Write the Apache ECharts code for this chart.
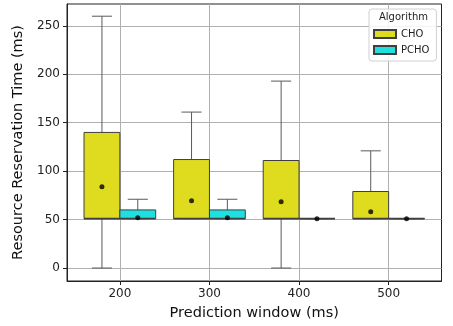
<!DOCTYPE html>
<html><head><meta charset="utf-8">
<script src="https://cdn.jsdelivr.net/npm/echarts@6/dist/echarts.min.js"></script>
<style>html,body{margin:0;padding:0;background:#fff}#c{width:453px;height:326px}</style>
</head><body><div id="c"></div>
<script>
// Data
const categories = ['200', '300', '400', '500'];
const seriesNames = ['CHO', 'PCHO'];
// [min, q1, median, q3, max] per category
const choBox = [
  [0, 51, 51, 140, 260],
  [51, 51, 51, 112, 161],
  [0, 51, 51, 111, 193],
  [51, 51, 51, 79, 121]
];
const pchoBox = [
  [51, 51, 51, 60, 71],
  [51, 51, 51, 60, 71],
  [51, 51, 51, 51, 51],
  [51, 51, 51, 51, 51]
];
const choMean = [84, 69.5, 68.5, 58];
const pchoMean = [52, 52, 51, 51];
const yTicks = [0, 50, 100, 150, 200, 250];

const colors = ['#dfdc1f', '#20dfdf'];
const offsets = [-0.2, 0.2];
const boxW = 0.4;
const font = 'DejaVu Sans';

function boxSeries(name, boxes, k) {
  return {
    name: name,
    type: 'custom',
    itemStyle: { color: colors[k], borderColor: '#3f3f3f', borderWidth: 1 },
    encode: { x: 0, y: [1, 2, 3, 4, 5] },
    data: boxes.map((b, i) => [i + offsets[k]].concat(b)),
    renderItem: function (params, api) {
      const x = api.value(0);
      const mn = api.coord([x, api.value(1)]);
      const q1 = api.coord([x, api.value(2)]);
      const md = api.coord([x, api.value(3)]);
      const q3 = api.coord([x, api.value(4)]);
      const mx = api.coord([x, api.value(5)]);
      const w = api.size([boxW, 0])[0];
      const cw = w * 0.56;
      const cx = q1[0];
      const wh = { stroke: '#5a5a5a', lineWidth: 1 };
      return {
        type: 'group',
        children: [
          { type: 'line', shape: { x1: cx, y1: q3[1], x2: cx, y2: mx[1] }, style: wh },
          { type: 'line', shape: { x1: cx - cw / 2, y1: mx[1], x2: cx + cw / 2, y2: mx[1] }, style: wh },
          { type: 'line', shape: { x1: cx, y1: q1[1], x2: cx, y2: mn[1] }, style: wh },
          { type: 'line', shape: { x1: cx - cw / 2, y1: mn[1], x2: cx + cw / 2, y2: mn[1] }, style: wh },
          { type: 'rect', shape: { x: cx - w / 2, y: q3[1], width: w, height: q1[1] - q3[1] },
            style: { fill: colors[k], stroke: '#3f3f3f', lineWidth: 1 } },
          { type: 'line', shape: { x1: cx - w / 2, y1: md[1], x2: cx + w / 2, y2: md[1] },
            style: { stroke: '#3f3f3f', lineWidth: 1.8 } }
        ]
      };
    },
    z: 3
  };
}

function meanSeries(name, means, k) {
  return {
    name: name,
    type: 'scatter',
    symbol: 'circle',
    symbolSize: 5,
    itemStyle: { color: '#000' },
    data: means.map((m, i) => [i + offsets[k], m]),
    z: 5,
    silent: true
  };
}

const chart = echarts.init(document.getElementById('c'), null, { renderer: 'canvas' });
chart.setOption({
  animation: false,
  backgroundColor: '#fff',
  grid: { left: 67, right: 11.5, top: 4, bottom: 44, show: true, borderColor: '#222', borderWidth: 1, backgroundColor: 'transparent' },
  graphic: [{
    type: 'text', left: 379, top: 12, z: 100,
    style: { text: 'Algorithm', fontFamily: font, fontSize: 10, fill: '#222' }
  }],
  legend: {
    data: seriesNames,
    orient: 'vertical',
    left: 369, top: 9,
    padding: [20, 7, 6, 4],
    itemGap: 6,
    itemWidth: 22, itemHeight: 8,
    icon: 'rect',
    backgroundColor: 'rgba(255,255,255,0.85)',
    borderColor: '#d0d0d0', borderWidth: 1, borderRadius: 3,
    textStyle: { fontFamily: font, fontSize: 10, color: '#222' }
  },
  xAxis: {
    type: 'value', min: -0.59, max: 3.59,
    name: 'Prediction window (ms)', nameLocation: 'middle', nameGap: 25,
    nameTextStyle: { fontFamily: font, fontSize: 14.5, color: '#111' },
    axisLine: { show: true, onZero: false, lineStyle: { color: '#222' } },
    axisTick: { show: true, length: 4, customValues: [0, 1, 2, 3], lineStyle: { color: '#222' } },
    axisLabel: { customValues: [0, 1, 2, 3], formatter: v => categories[Math.round(v)], fontFamily: font, fontSize: 12, color: '#222', margin: 7 },
    splitLine: { show: true, lineStyle: { color: '#b0b0b0', width: 1 } }
  },
  yAxis: {
    type: 'value', min: -13.4, max: 272.6,
    name: 'Resource Reservation Time (ms)', nameLocation: 'middle', nameGap: 34,
    nameTextStyle: { fontFamily: font, fontSize: 14.5, color: '#111' },
    axisLine: { show: true, onZero: false, lineStyle: { color: '#222' } },
    axisTick: { show: true, length: 4, customValues: yTicks, lineStyle: { color: '#222' } },
    axisLabel: { customValues: yTicks, fontFamily: font, fontSize: 12, color: '#222', margin: 7 },
    splitLine: { show: true, lineStyle: { color: '#b0b0b0', width: 1 } }
  },
  series: [
    boxSeries('CHO', choBox, 0),
    boxSeries('PCHO', pchoBox, 1),
    meanSeries('CHO mean', choMean, 0),
    meanSeries('PCHO mean', pchoMean, 1)
  ]
});
</script>
</body></html>
